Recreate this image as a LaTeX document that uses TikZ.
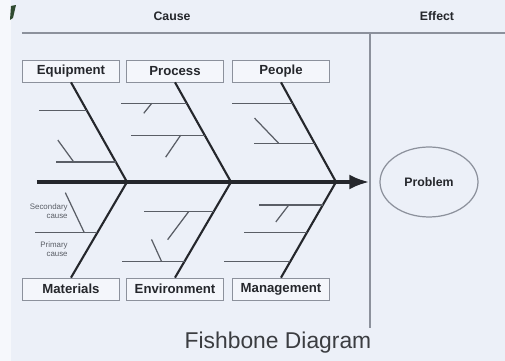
\documentclass[tikz,border=0pt]{standalone}
\usepackage{fontspec}
\setmainfont{Liberation Sans}
\usetikzlibrary{arrows.meta,positioning,calc,shapes.geometric}
\definecolor{paper}{HTML}{ECF0F8}
\definecolor{edgepaper}{HTML}{F6F8FC}
\definecolor{boxfill}{HTML}{F4F6FB}
\definecolor{ink}{HTML}{25272C}
\definecolor{rule}{HTML}{8C919C}
\definecolor{twig}{HTML}{5A5E66}
\definecolor{corner}{HTML}{2F4A30}

\begin{document}
\begin{tikzpicture}[x=0.02cm,y=-0.02cm,
  head/.style={font=\fontsize{7}{8}\selectfont\bfseries,text=ink},
  cat/.style={draw=rule,fill=boxfill,minimum width=1.94cm,minimum height=0.44cm,inner sep=1pt,font=\fontsize{7.5}{8}\selectfont\bfseries,text=ink},
  bone/.style={draw=ink,line width=1.2pt},
  twigline/.style={draw=twig,line width=0.7pt},
  note/.style={font=\fontsize{4.5}{5}\selectfont,text=twig,align=right,anchor=east,inner sep=0pt},
  spine/.style={draw=ink,line width=2.2pt,-{Latex[length=4mm,width=3mm]}},
  frame/.style={draw=rule,line width=0.8pt}
]
% page
\fill[paper] (0,0) rectangle (505,361);
\useasboundingbox (0,0) rectangle (505,361);
\fill[edgepaper] (0,0) rectangle (11,361);
\fill[corner] (11,6) -- (16,5) -- (13,18) -- (10,20) -- cycle;

% header
\node[head] (cause) at (172,16) {Cause};
\node[head] (effect) at (437,16) {Effect};
\draw[frame] (22,33) -- (505,33);
\draw[frame] (370,33) -- (370,328);

% categories
\node[cat] (equip) at (71,71) {Equipment};
\node[cat] (proc) at (175,71) {Process};
\node[cat] (people) at (281,71) {People};
\node[cat] (mat) at (71,289) {Materials};
\node[cat] (env) at (175,289) {Environment};
\node[cat] (mgmt) at (281,289) {Management};

% effect
\node[ellipse,draw=rule,line width=0.7pt,minimum width=1.96cm,minimum height=1.4cm,inner sep=0pt,
  font=\fontsize{7}{8}\selectfont\bfseries,text=ink] (prob) at (429,182) {Problem};

% spine and bones
\coordinate (tail) at (37,182);
\coordinate (j1) at (127,182);
\coordinate (j2) at (231,182);
\coordinate (j3) at (336,182);
\draw[spine,shorten >=0.2cm] (tail) -- (prob);
\draw[bone] (equip.south) -- (j1) coordinate[pos=.28] (eq1) coordinate[pos=.8] (eq2);
\draw[bone] (proc.south) -- (j2) coordinate[pos=.21] (pr1) coordinate[pos=.53] (pr2);
\draw[bone] (people.south) -- (j3) coordinate[pos=.21] (pe1) coordinate[pos=.61] (pe2);
\draw[bone] (j1) -- (mat.north) coordinate[pos=.53] (ma1);
\draw[bone] (j2) -- (env.north) coordinate[pos=.31] (en1) coordinate[pos=.83] (en2);
\draw[bone] (j3) -- (mgmt.north) coordinate[pos=.24] (mg1) coordinate[pos=.53] (mg2) coordinate[pos=.83] (mg3);

% causes
\draw[twigline] (eq1) -- ++(-48,0);
\draw[twigline] (eq2) -- ++(-60,0);
\draw[twigline] ($(eq2)+(-42,0)$) -- ++(-16,-22);
\draw[twigline] (pr1) -- ++(-66,0);
\draw[twigline] (pr2) -- ++(-74,0);
\draw[twigline] ($(pr1)+(-35,0)$) -- ++(-8,10);
\draw[twigline] ($(pr2)+(-24,0)$) -- ++(-15,22);
\draw[twigline] (pe1) -- ++(-61,0);
\draw[twigline] (pe2) -- ++(-61,0);
\draw[twigline] ($(pe2)+(-36,0)$) -- ++(-24,-25);
\draw[twigline] (ma1) -- ++(-62,0);
\draw[twigline] ($(ma1)+(-13,0)$) -- ++(-19,-40);
\draw[twigline] (en1) -- ++(-70,0);
\draw[twigline] (en2) -- ++(-63,0);
\draw[twigline] ($(en1)+(-25,0)$) -- ++(-21,28);
\draw[twigline] ($(en2)+(-23,0)$) -- ++(-10,-22);
\draw[twigline] (mg1) -- ++(-64,0);
\draw[twigline] (mg2) -- ++(-63,0);
\draw[twigline] (mg3) -- ++(-66,0);
\draw[twigline] ($(mg1)+(-34,0)$) -- ++(-13,17);
\node[note] (second) at (68,211) {Secondary\\cause};
\node[note] (first) at (68,249) {Primary\\cause};

% title
\node[font=\fontsize{13}{15}\selectfont,text=ink!90] (title) at (278,343) {Fishbone Diagram};
\end{tikzpicture}
\end{document}
